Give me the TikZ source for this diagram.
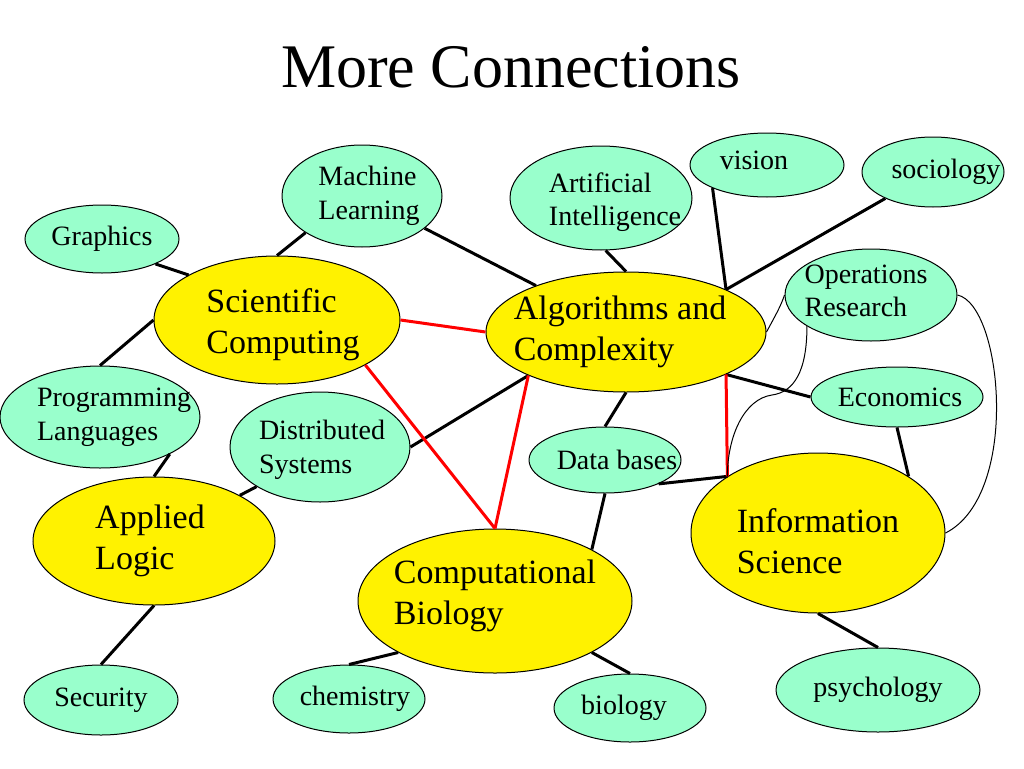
\documentclass[tikz,border=0pt]{standalone}
\usepackage{fontspec}
\setmainfont{Liberation Serif}
\usetikzlibrary{shapes.geometric}
\definecolor{mint}{RGB}{153,255,204}

\begin{document}
\begin{tikzpicture}[x=1pt,y=-1pt,
			leaf/.style={ellipse,draw,fill=mint,line width=1pt,inner sep=0pt},
			core/.style={ellipse,draw,fill=yellow,line width=1pt,inner sep=0pt},
			small/.style={font=\fontsize{28}{33.6}\selectfont,align=left},
			big/.style={font=\fontsize{34}{40.8}\selectfont,align=left},
			link/.style={line width=3pt},
			redlink/.style={line width=3pt,red},
			thinlink/.style={line width=1pt}]
			\useasboundingbox (0,0) rectangle (1024,768);
			\node (title) [anchor=base,font=\fontsize{62}{74}\selectfont] at (511,87) {More Connections};
			\node (gr) [leaf,minimum width=154,minimum height=68,
				label={[small]center:Graphics}] at (102,239) {};
			\node (ml) [leaf,minimum width=160,minimum height=102,
				label={[small,xshift=7]center:Machine\\Learning}] at (362,196) {};
			\node (ai) [leaf,minimum width=182,minimum height=104,
				label={[small,xshift=14,yshift=-4]center:Artificial\\Intelligence}] at (601,198) {};
			\node (vis) [leaf,minimum width=154,minimum height=64,
				label={[small,xshift=-13,yshift=5]center:vision}] at (767,165) {};
			\node (soc) [leaf,minimum width=142,minimum height=70,
				label={[small,xshift=13]center:sociology}] at (933,172) {};
			\node (sc) [core,minimum width=246,minimum height=128,
				label={[big,xshift=6,yshift=-5]center:Scientific\\Computing}] at (277,320) {};
			\node (ac) [core,minimum width=280,minimum height=120,
				label={[big,xshift=-6]center:Algorithms and\\Complexity}] at (626,332) {};
			\node (or) [leaf,minimum width=172,minimum height=92,
				label={[small,xshift=-5,yshift=4]center:Operations\\Research}] at (871,295) {};
			\node (econ) [leaf,minimum width=172,minimum height=60,
				label={[small,xshift=3]center:Economics}] at (897,397) {};
			\node (pl) [leaf,minimum width=200,minimum height=102,
				label={[small,xshift=14]center:Programming\\Languages}] at (100,417) {};
			\node (ds) [leaf,minimum width=180,minimum height=110,
				label={[small,xshift=2,yshift=-3]center:Distributed\\Systems}] at (320,447) {};
			\node (db) [leaf,minimum width=152,minimum height=66,
				label={[small,xshift=12]center:Data bases}] at (605,460) {};
			\node (al) [core,minimum width=242,minimum height=128,
				label={[big,xshift=-4]center:Applied\\Logic}] at (154,541) {};
			\node (cb) [core,minimum width=274,minimum height=144,
				label={[big,yshift=5]center:Computational\\Biology}] at (495,601) {};
			\node (is) [core,minimum width=254,minimum height=160,
				label={[big,yshift=-8]center:Information\\Science}] at (818,533) {};
			\node (sec) [leaf,minimum width=154,minimum height=70,
				label={[small]center:Security}] at (101,700) {};
			\node (chem) [leaf,minimum width=152,minimum height=68,
				label={[small,xshift=6]center:chemistry}] at (349,699) {};
			\node (bio) [leaf,minimum width=152,minimum height=68,
				label={[small,xshift=-6]center:biology}] at (630,708) {};
			\node (psy) [leaf,minimum width=204,minimum height=84,
				label={[small]center:psychology}] at (878,690) {};
			% black links
			\draw [link] (gr.-25) -- (sc.153);
			\draw [link] (ml.213) -- (sc.north);
			\draw [link] (ml) -- (ac);
			\draw [link] (ai.-85) -- (ac.north);
			\draw [link] (vis.203) -- (ac.23);
			\draw [link] (soc.209) -- (ac.23);
			\draw [link] (sc.west) -- (pl.north);
			\draw [link] (pl.-28) -- (al.north);
			\draw [link] (ds.212) -- (al.28);
			\draw [link] (ds.east) -- (ac.204);
			\draw [link] (ac.south) -- (db.north);
			\draw [link] (ac.-23) -- (econ.west);
			\draw [link] (al.south) -- (sec.north);
			\draw [link] (cb.208) -- (chem.north);
			\draw [link] (cb.-28) -- (bio.north);
			\draw [link] (cb.28) -- (db.south);
			\draw [link] (db.-24) -- (is.148);
			\draw [link] (econ.south) -- (is.32);
			\draw [link] (is.south) -- (psy.north);
			% red links
			\draw [redlink] (sc.east) -- (ac.west);
			\draw [redlink] (sc.-27) -- (cb.north);
			\draw [redlink] (ac.204) -- (cb.north);
			\draw [redlink] (ac.-23) -- (is.148);
			% thin curves
			\coordinate (kink) at (772,395);
			\draw [thinlink] (ac.east) .. controls +(8,-15) and +(-4,12) .. (or.west);
			\draw [thinlink] (or.206) .. controls +(0,45) and +(22,-3) .. (kink)
				.. controls +(-28,4) and +(0,-40) .. (is.148);
			\draw [thinlink] (or.east) .. controls +(45,10) and +(75,-38) .. (is.east);
		\end{tikzpicture}
\end{document}
